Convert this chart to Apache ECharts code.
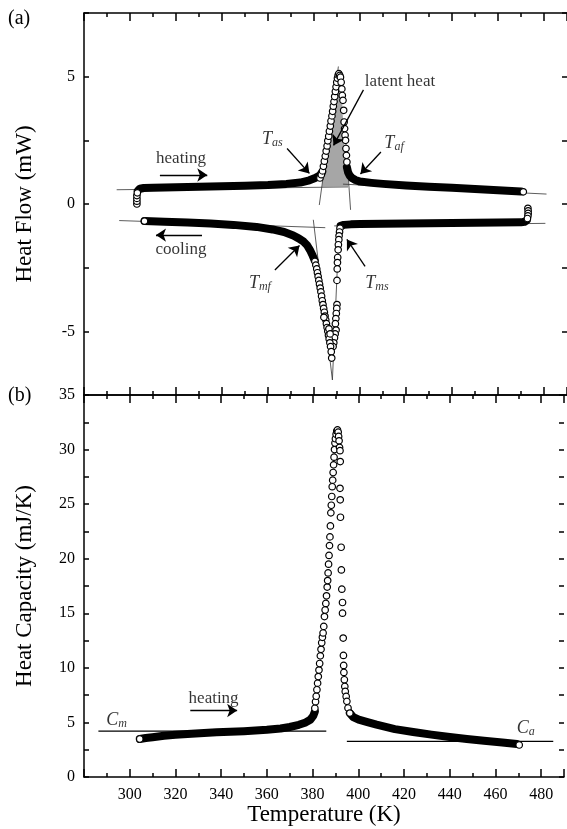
<!DOCTYPE html>
<html><head><meta charset="utf-8">
<script src="https://cdn.jsdelivr.net/npm/echarts@6/dist/echarts.min.js"></script>
<style>html,body{margin:0;padding:0;background:#fff}#c{width:567px;height:829px}</style>
</head><body><div id="c"></div>
<script>
const FONT = '"Liberation Serif","Times New Roman",serif';

// ---- tick labels ----
const xTickLabels = ['300','320','340','360','380','400','420','440','460','480'];
const hfTickLabels = ['-5','0','5'];
const cpTickLabels = ['0','5','10','15','20','25','30','35'];

// ---- (a) heating curve ----
const heatStartT  = [303.0,303.0,303.0,303.0,303.2];
const heatStartHF = [0.00,0.11,0.22,0.33,0.44];
const heatBandLT  = [303.4,304.3,306,310,320,330,340,350,360,368,374,378,380.5,382.5,383.5];
const heatBandLHF = [0.52,0.60,0.63,0.64,0.66,0.68,0.70,0.72,0.75,0.79,0.84,0.93,1.02,1.12,1.25];
const heatRiseT   = [382.6,383.2,383.7,384.1,384.5,384.9,385.3,385.7,386.0,386.4,386.7,387.1,387.4,387.8,388.1,388.4,388.7,389.0,389.3,389.6,389.9,390.2,390.5,390.8];
const heatRiseHF  = [1.02,1.15,1.30,1.48,1.68,1.88,2.08,2.28,2.48,2.66,2.86,3.06,3.26,3.46,3.64,3.84,4.02,4.22,4.42,4.60,4.78,4.94,5.06,5.12];
const heatFallT   = [391.2,391.5,391.8,392.1,392.3,392.6,392.9,393.1,393.3,393.5,393.7,393.9,394.1,394.3];
const heatFallHF  = [5.05,4.98,4.78,4.52,4.26,4.07,3.68,3.22,2.96,2.70,2.50,2.18,1.91,1.65];
const heatBandRT  = [394.3,394.8,395.5,396.5,398,400,405,410,420,430,440,450,460,470];
const heatBandRHF = [1.45,1.25,1.12,1.02,0.94,0.88,0.83,0.79,0.73,0.68,0.64,0.59,0.54,0.49];
const heatEndT = [471.0], heatEndHF = [0.48];

// ---- (a) cooling curve ----
const coolStartT  = [473.0,473.1,473.1,473.0,472.8];
const coolStartHF = [-0.17,-0.27,-0.37,-0.47,-0.57];
const coolBandRT  = [472.5,471.5,470,460,450,440,430,420,410,400,396,393,391.6];
const coolBandRHF = [-0.64,-0.70,-0.72,-0.73,-0.74,-0.75,-0.76,-0.77,-0.78,-0.79,-0.80,-0.82,-0.86];
const coolMsT  = [391.3,391.1,390.9,390.8,390.6,390.5,390.3,390.2,390.1,390.0,390.0,389.9,389.7,389.5,389.3,389.6,389.2,388.9,388.6,388.3];
const coolMsHF = [-0.95,-1.10,-1.25,-1.40,-1.60,-1.80,-2.10,-2.30,-2.55,-3.00,-3.95,-4.10,-4.30,-4.50,-4.70,-4.95,-5.10,-5.25,-5.45,-5.60];
const coolMfT  = [380.4,380.8,381.2,381.5,381.8,382.1,382.4,382.7,383.0,383.3,383.6,383.9,384.2,384.5,384.8,385.1,385.4,385.7,386.0,386.3,386.6,386.9,387.2,387.5,387.7,386.5,387.0,384.3];
const coolMfHF = [-2.25,-2.40,-2.55,-2.70,-2.85,-3.00,-3.15,-3.30,-3.45,-3.62,-3.80,-3.95,-4.10,-4.25,-4.40,-4.55,-4.70,-4.85,-5.00,-5.15,-5.30,-5.45,-5.60,-5.80,-6.05,-4.90,-5.10,-4.45];
const coolBandLT  = [380.2,379.3,378.2,377,375.5,373.5,371,367,362,355,345,335,325,315,306.3];
const coolBandLHF = [-2.20,-2.00,-1.80,-1.62,-1.48,-1.36,-1.24,-1.10,-1.00,-0.90,-0.82,-0.77,-0.73,-0.70,-0.67];
const coolEndT = [306.3], coolEndHF = [-0.67];

// latent heat area outline
const latentT  = [383.5,384.0,386.2,388.3,389.8,390.6,391.3,392.0,392.5,393.0,393.5,394.2,394.8,395.0];
const latentHF = [0.68,1.30,2.50,3.80,4.76,5.10,5.00,4.50,3.50,2.70,1.80,1.30,1.10,0.70];

// tangent / baseline segments (a)
const hfLines = [
  [[294.2,0.56],[394.8,0.67]],
  [[392.6,0.78],[481.1,0.39]],
  [[382.3,-0.04],[390.6,5.40]],
  [[395.9,-0.23],[393.5,2.91]],
  [[295.3,-0.65],[384.9,-0.93]],
  [[388.8,-0.86],[480.6,-0.76]],
  [[379.7,-0.62],[388.0,-6.91]],
  [[391.0,-0.75],[388.0,-6.91]]
];
// arrows (a): from -> to
const hfArrows = [
  [[313.0,1.14],[333.6,1.14]],
  [[331.3,-1.22],[311.3,-1.22]],
  [[368.3,2.18],[378.0,1.20]],
  [[409.1,2.04],[400.2,1.18]],
  [[401.5,4.48],[388.5,2.30]],
  [[363.0,-2.59],[373.7,-1.63]],
  [[402.2,-2.45],[394.3,-1.39]]
];
const hfNotes = [
  ['heating',322.2,1.77],
  ['cooling',322.2,-1.77],
  ['latent heat',417.4,4.79],
  ['T_as',361.9,2.55],
  ['T_af',414.8,2.40],
  ['T_mf',356.5,-3.10],
  ['T_ms',407.4,-3.10]
];

// ---- (b) heat capacity ----
const cpStartT = [304.4], cpStart = [3.48];
const cpBandLT = [304.4,307,310,315,320,327,338,350,360,366,370,374,377,379,380.3,381.0];
const cpBandL  = [3.48,3.57,3.65,3.78,3.87,3.97,4.09,4.20,4.33,4.45,4.58,4.78,5.00,5.25,5.60,6.00];
const cpRiseT  = [381.0,381.3,381.6,381.9,382.2,382.5,382.8,383.1,383.4,383.7,384.0,384.3,384.6,384.9,385.2,385.5,385.8,386.1,386.4,386.6,386.8,387.0,387.2,387.4,387.6,387.8,388.0,388.2,388.4,388.6,388.8,389.0,389.2,389.4,389.6,389.8,390.0,390.3,390.6,390.9];
const cpRise   = [6.3,6.9,7.4,8.0,8.6,9.2,9.8,10.4,11.1,11.7,12.3,12.8,13.2,13.8,14.7,15.3,15.9,16.6,17.4,18.0,18.7,19.5,20.3,21.2,22.0,23.0,24.2,24.9,25.7,26.6,27.2,27.9,28.6,29.3,30.0,30.6,31.0,31.4,31.7,31.8];
const cpFallT  = [391.2,391.4,391.6,391.8,392.0,392.1,392.0,392.1,392.2,392.5,392.6,392.8,393.1,393.1,393.4,393.5,393.6,393.7,393.9,394.1,394.3,394.7,395.0,395.5,396.3];
const cpFall   = [31.6,31.2,30.8,30.2,29.9,28.9,26.45,25.4,23.8,21.05,18.97,17.21,15.99,15.01,12.73,11.14,10.22,9.58,8.91,8.30,7.84,7.38,6.93,6.32,5.86];
const cpBandRT = [396.3,397.8,400.2,404,408,416,424,432,440,447.5,455,463,469.4];
const cpBandR  = [5.86,5.49,5.25,5.02,4.79,4.39,4.12,3.88,3.67,3.48,3.32,3.17,3.02];
const cpEndT = [470.4], cpEnd = [2.93];
const cpLines = [
  [[286.3,4.21],[386.0,4.21]],
  [[395.0,3.26],[485.3,3.26]]
];
const cpArrows = [
  [[326.5,6.09],[347.0,6.09]]
];
const cpNotes = [
  ['heating',336.7,7.15],
  ['C_m',294.3,5.22],
  ['C_a',473.3,4.49]
];

// ---------- build ----------
const zip = (a,b)=>a.map((v,i)=>[v,b[i]]);
function band(T,V,xi,yi){
  return {type:'line',xAxisIndex:xi,yAxisIndex:yi,data:zip(T,V),showSymbol:false,symbol:'none',
    lineStyle:{color:'#000',width:8,cap:'round',join:'round'},z:3,silent:true};
}
function circles(T,V,xi,yi){
  return {type:'scatter',xAxisIndex:xi,yAxisIndex:yi,data:zip(T,V),symbol:'circle',symbolSize:6.5,
    itemStyle:{color:'#fff',borderColor:'#000',borderWidth:1.2,opacity:1},z:4,silent:true};
}
function thin(seg,xi,yi,color,width){
  return {type:'line',xAxisIndex:xi,yAxisIndex:yi,data:seg,showSymbol:false,symbol:'none',
    lineStyle:{color:color,width:width},z:2,silent:true};
}
function arrows(list,xi,yi){
  return {type:'line',xAxisIndex:xi,yAxisIndex:yi,data:[list[0][0]],showSymbol:false,symbol:'none',
    lineStyle:{opacity:0},silent:true,z:6,
    markLine:{silent:true,symbol:['none','arrow'],symbolSize:10,label:{show:false},animation:false,
      itemStyle:{color:'#000'},
      lineStyle:{color:'#000',width:1.3,type:'solid'},emphasis:{disabled:true},
      data:list.map(s=>[{coord:s[0]},{coord:s[1]}])}};
}
function fmtNote(t){
  if(t.indexOf('_')>0){const p=t.split('_');return '{T|'+p[0]+'}{s|'+p[1]+'}';}
  return '{n|'+t+'}';
}
const txt = {color:'#000',textBorderWidth:0,textShadowBlur:0,fontFamily:FONT};
const rich = {
  n:Object.assign({fontSize:17},txt),
  T:Object.assign({fontSize:18,fontStyle:'italic'},txt),
  s:Object.assign({fontSize:12,fontStyle:'italic',padding:[8,0,0,0]},txt)
};
function notes(list,xi,yi){
  return {type:'scatter',xAxisIndex:xi,yAxisIndex:yi,symbolSize:0,silent:true,z:10,
    itemStyle:{color:'#000'},
    data:list.map(n=>({value:[n[1],n[2]],label:Object.assign({show:true,position:'inside',formatter:fmtNote(n[0]),rich:rich},txt)}))};
}
function xAx(grid,pos,labels){
  return {type:'value',gridIndex:grid,position:pos,min:280,max:490,interval:20,
    axisLine:{show:true,onZero:false,lineStyle:{color:'#000',width:1.5}},
    axisTick:{show:true,inside:true,length:8,lineStyle:{color:'#000',width:1.5}},
    minorTick:{show:true,splitNumber:2,length:4,lineStyle:{color:'#000',width:1.5}},
    splitLine:{show:false},
    axisLabel:{show:!!labels,margin:10,fontFamily:FONT,fontSize:16,color:'#000',
      formatter:v=>(labels&&labels.indexOf(String(v))>=0)?String(v):''},
    name: (grid===1&&pos==='bottom')?'Temperature (K)':'',
    nameLocation:'middle',nameGap:18,nameTextStyle:{fontFamily:FONT,fontSize:23,color:'#000'}};
}
function yAx(grid,pos,min,max,labels,name){
  return {type:'value',gridIndex:grid,position:pos,min:min,max:max,interval:2.5,
    axisLine:{show:pos!=='right',onZero:false,lineStyle:{color:'#000',width:1.5}},
    axisTick:{show:true,inside:true,length:5,lineStyle:{color:'#000',width:1.5}},
    splitLine:{show:false},
    axisLabel:{show:!!labels,margin:9,fontFamily:FONT,fontSize:16,color:'#000',
      formatter:v=>(labels&&labels.indexOf(String(v))>=0)?String(v):''},
    name:name||'',nameLocation:'middle',nameGap:48,
    nameTextStyle:{fontFamily:FONT,fontSize:23,color:'#000'}};
}

const series = [
  {type:'custom',xAxisIndex:0,yAxisIndex:0,data:[[latentT[0],latentHF[0]]],silent:true,z:1,
   renderItem:(p,api)=>({type:'polygon',shape:{points:latentT.map((t,i)=>api.coord([t,latentHF[i]]))},style:{fill:'#a6a6a6'}})},
  ...hfLines.map(s=>thin(s,0,0,'#333',0.8)),
  ...cpLines.map(s=>thin(s,2,2,'#000',1.3)),
  band(heatBandLT,heatBandLHF,0,0), band(heatBandRT,heatBandRHF,0,0),
  band(coolBandLT,coolBandLHF,0,0), band(coolBandRT,coolBandRHF,0,0),
  band(cpBandLT,cpBandL,2,2), band(cpBandRT,cpBandR,2,2),
  circles(heatStartT,heatStartHF,0,0), circles(heatRiseT,heatRiseHF,0,0), circles(heatFallT,heatFallHF,0,0), circles(heatEndT,heatEndHF,0,0),
  circles(coolStartT,coolStartHF,0,0), circles(coolMsT,coolMsHF,0,0), circles(coolMfT,coolMfHF,0,0), circles(coolEndT,coolEndHF,0,0),
  circles(cpStartT,cpStart,2,2), circles(cpRiseT,cpRise,2,2), circles(cpFallT,cpFall,2,2), circles(cpEndT,cpEnd,2,2),
  arrows(hfArrows,0,0), arrows(cpArrows,2,2),
  notes(hfNotes,0,0), notes(cpNotes,2,2)
];

const chart = echarts.init(document.getElementById('c'),null,{renderer:'canvas'});
chart.setOption({
  animation:false,
  backgroundColor:'#fff',
  textStyle:{fontFamily:FONT},
  grid:[{left:84,right:0,top:13,height:382},{left:84,right:0,top:395,height:382}],
  xAxis:[xAx(0,'bottom',null),xAx(0,'top',null),xAx(1,'bottom',xTickLabels),xAx(1,'top',null)],
  yAxis:[yAx(0,'left',-7.5,7.5,hfTickLabels,'Heat Flow (mW)'),yAx(0,'right',-7.5,7.5,null),
         yAx(1,'left',0,35,cpTickLabels,'Heat Capacity (mJ/K)'),yAx(1,'right',0,35,null)],
  graphic:[
    {type:'text',left:8,top:9,style:{text:'(a)',fontFamily:FONT,fontSize:20,fill:'#000'}},
    {type:'text',left:8,top:386,style:{text:'(b)',fontFamily:FONT,fontSize:20,fill:'#000'}}
  ],
  series:series
});
</script></body></html>
